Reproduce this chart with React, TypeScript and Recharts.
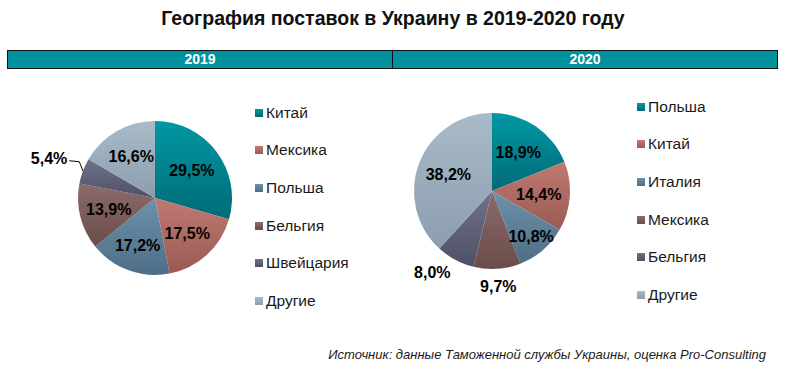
import { PieChart, Pie, Cell } from 'recharts';

const YEARS = ['2019', '2020'];
const COUNTRIES_2019 = ['Китай', 'Мексика', 'Польша', 'Бельгия', 'Швейцария', 'Другие'];
const SHARES_2019 = [29.5, 17.5, 17.2, 13.9, 5.4, 16.6];
const COUNTRIES_2020 = ['Польша', 'Китай', 'Италия', 'Мексика', 'Бельгия', 'Другие'];
const SHARES_2020 = [18.9, 14.4, 10.8, 9.7, 8.0, 38.2];

// top / bottom colours of the slice gradients
const SHADES = [
  ['#0098a4', '#006b77'],
  ['#c07a72', '#9a5a52'],
  ['#6c92aa', '#4e6e86'],
  ['#8c6c6a', '#6a4c4a'],
  ['#70728a', '#4e5066'],
  ['#a9bac8', '#8c9eae'],
];

// label distance from centre as a share of the radius; >1 means outside
const LABEL_R_2019 = [0.6, 0.62, 0.66, 0.62, 1.45, 0.62];
const LABEL_R_2020 = [0.6, 0.6, 0.77, 1.23, 1.3, 0.6];
// small angle nudges (degrees, clockwise) for labels sitting outside
const LABEL_DA_2019 = [0, 0, 0, 0, 0, 0];
const LABEL_DA_2020 = [0, 0, 0, 0, 8, 0];
const LEADER_2019 = [false, false, false, false, true, false];

const RAD = Math.PI / 180;
const fmt = (v: number) => v.toFixed(1).replace('.', ',') + '%';
const FONT = "Arial, 'Liberation Sans', sans-serif";

const makeLabel = (factors: number[], nudges: number[], leaders: boolean[]) => (props: any) => {
  const { cx, cy, midAngle, outerRadius, index, value } = props;
  const k = factors[index];
  const a = midAngle - (nudges[index] || 0);
  if (leaders[index]) {
    const ex = cx + outerRadius * Math.cos(-midAngle * RAD);
    const ey = cy + outerRadius * Math.sin(-midAngle * RAD);
    const bx = cx + outerRadius * 1.09 * Math.cos(-(midAngle - 5) * RAD);
    const by = cy + outerRadius * 1.09 * Math.sin(-(midAngle - 5) * RAD);
    const hx = bx - 10;
    return (
      <g>
        <polyline points={`${ex},${ey} ${bx},${by} ${hx},${by - 1}`} fill="none" stroke="#000" strokeWidth={1} />
        <text x={hx - 2} y={by - 3} textAnchor="end" dominantBaseline="central"
          fontFamily={FONT} fontWeight="bold" fontSize={16} fill="#000">
          {fmt(value)}
        </text>
      </g>
    );
  }
  const x = cx + outerRadius * k * Math.cos(-a * RAD);
  const y = cy + outerRadius * k * Math.sin(-a * RAD);
  return (
    <text x={x} y={y} textAnchor="middle" dominantBaseline="central"
      fontFamily={FONT} fontWeight="bold" fontSize={16} fill="#000">
      {fmt(value)}
    </text>
  );
};

const data2019 = COUNTRIES_2019.map((name, i) => ({ name, value: SHARES_2019[i] }));
const data2020 = COUNTRIES_2020.map((name, i) => ({ name, value: SHARES_2020[i] }));

function LegendList({ names, left, top }: { names: string[]; left: number; top: number }) {
  return (
    <div style={{ position: 'absolute', left, top }}>
      {names.map((n, i) => (
        <div key={n} style={{ height: 37.6, display: 'flex', alignItems: 'center' }}>
          <span style={{
            display: 'inline-block', width: 8, height: 8, marginRight: 3,
            background: `linear-gradient(${SHADES[i][0]}, ${SHADES[i][1]})`,
          }} />
          <span style={{ fontSize: 15.5, color: '#1a1a1a' }}>{n}</span>
        </div>
      ))}
    </div>
  );
}

export default function App() {
  return (
    <div style={{ position: 'absolute', left: 0, top: 0, width: 786, height: 375, background: '#fff', fontFamily: FONT }}>
      <div style={{
        position: 'absolute', left: 0, top: 7, width: 786, textAlign: 'center',
        fontSize: 19.5, fontWeight: 'bold', color: '#111',
      }}>
        География поставок в Украину в 2019-2020 году
      </div>

      <div style={{
        position: 'absolute', left: 7, top: 50, width: 769, height: 17, display: 'flex',
        border: '1px solid #111', background: '#00929e',
      }}>
        {YEARS.map((y, i) => (
          <div key={y} style={{
            flex: 1, textAlign: 'center', color: '#fff', fontWeight: 'bold', fontSize: 14,
            lineHeight: '17px', borderLeft: i ? '1px solid #111' : 'none',
          }}>{y}</div>
        ))}
      </div>

      <div style={{ position: 'absolute', left: 0, top: 0 }}>
        <PieChart width={786} height={375} margin={{ top: 0, right: 0, bottom: 0, left: 0 }}>
          <defs>
            {SHADES.map((s, i) => (
              <linearGradient key={i} id={`g${i}`} x1="0" y1="0" x2="0" y2="1">
                <stop offset="0%" stopColor={s[0]} />
                <stop offset="100%" stopColor={s[1]} />
              </linearGradient>
            ))}
          </defs>
          <Pie data={data2019} dataKey="value" nameKey="name" cx={155} cy={198} outerRadius={77}
            startAngle={90} endAngle={-270} stroke="none" isAnimationActive={false}
            labelLine={false} label={makeLabel(LABEL_R_2019, LABEL_DA_2019, LEADER_2019)}>
            {data2019.map((_, i) => <Cell key={i} fill={`url(#g${i})`} />)}
          </Pie>
          <Pie data={data2020} dataKey="value" nameKey="name" cx={492} cy={191} outerRadius={78}
            startAngle={90} endAngle={-270} stroke="none" isAnimationActive={false}
            labelLine={false} label={makeLabel(LABEL_R_2020, LABEL_DA_2020, [])}>
            {data2020.map((_, i) => <Cell key={i} fill={`url(#g${i})`} />)}
          </Pie>
        </PieChart>
      </div>

      <LegendList names={COUNTRIES_2019} left={255} top={94} />
      <LegendList names={COUNTRIES_2020} left={637} top={88} />

      <div style={{
        position: 'absolute', right: 20, top: 347, fontSize: 13, fontStyle: 'italic', color: '#1a1a1a',
      }}>
        Источник: данные Таможенной службы Украины, оценка Pro-Consulting
      </div>
    </div>
  );
}
